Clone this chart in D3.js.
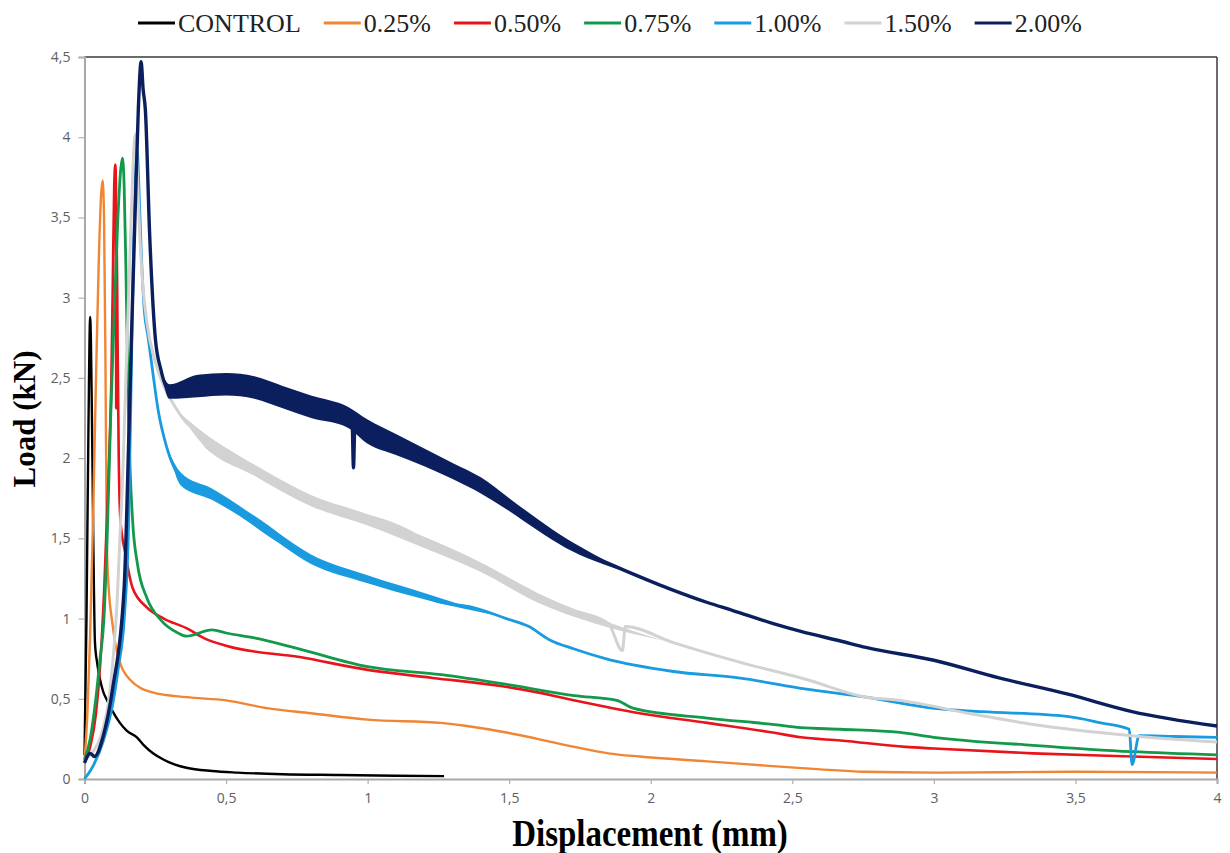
<!DOCTYPE html>
<html>
<head>
<meta charset="utf-8">
<script src="https://cdn.jsdelivr.net/npm/d3@7"></script>
<style>
  body { margin: 0; background: #fff; }
  svg { display: block; }
</style>
</head>
<body>
<svg id="chart" width="1230" height="853"></svg>
<script>
// series names + colours (legend order)
var seriesNames = ["CONTROL", "0.25%", "0.50%", "0.75%", "1.00%", "1.50%", "2.00%"];
var seriesColors = ["#000000", "#f08533", "#e8141b", "#129a4a", "#1a9be0", "#d2d2d2", "#0b1f5e"];

var xTicks = [0, 0.5, 1, 1.5, 2, 2.5, 3, 3.5, 4];
var yTicks = [0, 0.5, 1, 1.5, 2, 2.5, 3, 3.5, 4, 4.5];

// [displacement mm, load kN]
var control = [[0,0.15],[0.007,1.0],[0.014,2.2],[0.02,2.88],[0.026,2.3],[0.031,1.5],[0.037,0.85],[0.045,0.72],
  [0.055,0.62],[0.065,0.55],[0.08,0.49],[0.1,0.42],[0.125,0.35],[0.15,0.3],[0.185,0.26],[0.21,0.21],[0.242,0.16],
  [0.28,0.12],[0.32,0.09],[0.36,0.07],[0.45,0.05],[0.54,0.04],[0.7,0.03],[0.9,0.025],[1.1,0.02],[1.27,0.018]];

var p025 = [[0,0.12],[0.01,0.4],[0.02,0.9],[0.03,1.6],[0.04,2.45],[0.05,3.2],[0.058,3.62],[0.064,3.73],[0.069,3.5],
  [0.074,2.6],[0.079,1.45],[0.087,1.15],[0.097,0.99],[0.115,0.79],[0.16,0.62],[0.24,0.54],[0.36,0.51],[0.5,0.49],
  [0.65,0.44],[0.8,0.41],[1.0,0.37],[1.26,0.35],[1.35,0.33],[1.49,0.29],[1.6,0.25],[1.73,0.2],[1.85,0.16],[1.96,0.14],
  [2.2,0.11],[2.43,0.08],[2.6,0.06],[2.75,0.045],[3.0,0.04],[3.5,0.045],[4,0.04]];

var p050 = [[0,0.1],[0.02,0.2],[0.04,0.4],[0.055,0.7],[0.07,1.2],[0.085,1.9],[0.095,2.5],[0.1,3.1],[0.105,3.7],
  [0.109,3.83],[0.111,3.7],[0.112,2.31],[0.113,3.5],[0.117,2.7],[0.121,2.0],[0.127,1.61],[0.145,1.4],[0.17,1.19],
  [0.22,1.07],[0.28,1.0],[0.36,0.94],[0.42,0.88],[0.5,0.83],[0.76,0.76],[1.0,0.68],[1.23,0.63],[1.47,0.58],[1.6,0.54],
  [1.73,0.49],[1.96,0.41],[2.2,0.35],[2.43,0.29],[2.53,0.26],[2.67,0.24],[2.9,0.2],[3.0,0.19],[3.35,0.16],[3.7,0.14],[4,0.125]];

var p075 = [[0,0.12],[0.02,0.25],[0.04,0.5],[0.055,0.75],[0.068,0.98],[0.08,1.5],[0.092,2.23],[0.105,2.9],[0.118,3.5],
  [0.128,3.8],[0.134,3.87],[0.14,3.7],[0.146,3.2],[0.151,2.7],[0.156,2.23],[0.17,1.61],[0.187,1.34],[0.22,1.13],
  [0.27,0.99],[0.33,0.91],[0.36,0.89],[0.45,0.93],[0.5,0.91],[0.6,0.88],[0.76,0.81],[1.0,0.7],[1.26,0.65],[1.49,0.59],
  [1.73,0.52],[1.88,0.49],[1.94,0.44],[2.2,0.38],[2.43,0.34],[2.53,0.32],[2.67,0.31],[2.88,0.29],[3.0,0.26],[3.35,0.21],
  [3.7,0.17],[4,0.15]];

var p100 = [[0,0],[0.03,0.08],[0.067,0.24],[0.1,0.47],[0.12,0.7],[0.14,0.99],[0.156,1.61],[0.165,2.5],[0.172,3.2],
  [0.18,3.75],[0.186,3.92],[0.192,3.7],[0.2,3.3],[0.21,2.95],[0.225,2.75],[0.24,2.55],[0.26,2.3],[0.29,2.07],[0.34,1.88],
  [0.43,1.8],[0.55,1.65],[0.67,1.5],[0.79,1.38],[0.9,1.3],[1.02,1.24],[1.14,1.17],[1.26,1.1],[1.37,1.07],[1.49,1.0],
  [1.57,0.95],[1.64,0.87],[1.73,0.81],[1.84,0.75],[2.08,0.67],[2.31,0.63],[2.55,0.56],[2.76,0.51],[3.0,0.44],[3.17,0.42],
  [3.47,0.39],[3.59,0.35],[3.69,0.31],[3.7,0.09],[3.725,0.27],[3.85,0.265],[4,0.26]];

var p150 = [[0,0.12],[0.03,0.17],[0.06,0.28],[0.09,0.55],[0.115,1.1],[0.135,1.9],[0.15,2.7],[0.165,3.5],[0.175,3.95],
  [0.18,4.02],[0.186,3.8],[0.195,3.4],[0.205,3.1],[0.22,2.85],[0.25,2.6],[0.28,2.45],[0.32,2.32],[0.36,2.22],[0.41,2.15],
  [0.43,2.07],[0.55,1.97],[0.67,1.86],[0.79,1.75],[0.9,1.67],[1.02,1.63],[1.14,1.55],[1.26,1.42],[1.37,1.34],[1.49,1.25],
  [1.61,1.13],[1.73,1.05],[1.85,0.97],[1.9,0.8],[1.91,0.95],[2.08,0.85],[2.31,0.73],[2.55,0.62],[2.76,0.51],[2.88,0.49],
  [3.12,0.41],[3.35,0.34],[3.7,0.27],[4,0.23]];

var p200 = [[0,0.1],[0.02,0.16],[0.035,0.14],[0.065,0.26],[0.1,0.57],[0.14,1.19],[0.156,2.1],[0.165,2.7],[0.18,3.6],
  [0.19,4.17],[0.2,4.47],[0.207,4.3],[0.215,4.17],[0.23,3.4],[0.25,2.75],[0.27,2.55],[0.3,2.42],[0.35,2.42],[0.43,2.46],
  [0.55,2.47],[0.67,2.39],[0.79,2.33],[0.93,2.26],[0.945,2.24],[0.95,1.94],[0.955,2.2],[1.02,2.16],[1.14,2.07],[1.26,1.95],
  [1.37,1.85],[1.49,1.7],[1.61,1.56],[1.73,1.43],[1.84,1.35],[2.06,1.19],[2.2,1.1],[2.29,1.05],[2.43,0.97],[2.53,0.92],
  [2.67,0.86],[2.76,0.82],[3.0,0.74],[3.23,0.63],[3.47,0.53],[3.7,0.42],[4,0.33]];

// noisy stretches: [d, low, high] envelope
var band200 = [[0.27,2.55,2.55],[0.3,2.37,2.46],[0.4,2.38,2.52],[0.5,2.39,2.53],[0.6,2.37,2.51],[0.7,2.31,2.45],
  [0.8,2.25,2.39],[0.93,2.19,2.32],[1.0,2.09,2.24],[1.1,2.02,2.15],[1.2,1.95,2.06],[1.3,1.87,1.97],[1.4,1.78,1.88],
  [1.5,1.67,1.75],[1.6,1.55,1.62],[1.7,1.44,1.5],[1.8,1.36,1.4],[1.95,1.27,1.27]];
var band150 = [[0.33,2.29,2.29],[0.42,2.08,2.16],[0.6,1.89,1.96],[0.8,1.7,1.77],[1.0,1.58,1.65],[1.2,1.44,1.51],
  [1.4,1.29,1.35],[1.6,1.1,1.16],[1.8,0.97,1.01],[2.05,0.86,0.86]];
var band100 = [[0.3,2.03,2.03],[0.34,1.83,1.91],[0.45,1.74,1.81],[0.6,1.58,1.64],[0.8,1.34,1.4],[1.0,1.22,1.27],
  [1.2,1.12,1.16],[1.45,1.02,1.02]];

var seriesData = [control, p025, p050, p075, p100, p150, p200];
var strokeW = [2.4, 2.4, 2.6, 2.8, 2.8, 3, 3.4];

var svg = d3.select('#chart');
var x = d3.scaleLinear().domain([0, 4]).range([84.5, 1217]);
var y = d3.scaleLinear().domain([0, 4.5]).range([779, 57]);
var fmt = function(v) { return String(v).replace('.', ','); };

// frame: top + right dark, left + bottom grey
svg.append('line').attr('x1', x(0)).attr('x2', x(4)).attr('y1', y(4.5)).attr('y2', y(4.5))
    .attr('stroke', '#3a3a3a').attr('stroke-width', 1.5);
svg.append('line').attr('x1', x(4)).attr('x2', x(4)).attr('y1', y(4.5)).attr('y2', y(0))
    .attr('stroke', '#3a3a3a').attr('stroke-width', 1.5);

var yAxis = svg.append('g').attr('transform', 'translate(' + x(0) + ',0)')
    .call(d3.axisLeft(y).tickValues(yTicks).tickFormat(fmt).tickSize(6).tickPadding(8));
var xAxis = svg.append('g').attr('transform', 'translate(0,' + y(0) + ')')
    .call(d3.axisBottom(x).tickValues(xTicks).tickFormat(fmt).tickSize(5).tickPadding(9));
[yAxis, xAxis].forEach(function(ax) {
    ax.select('.domain').attr('stroke', '#a8a8a8').attr('stroke-width', 2);
    ax.selectAll('.tick line').attr('stroke', '#b0b0b0').attr('stroke-width', 1.2);
    ax.selectAll('.tick text').attr('fill', '#606060').style('font-family', '"Open Sans", sans-serif')
        .style('font-size', '14px');
});

var line = d3.line().x(function(d) { return x(d[0]); }).y(function(d) { return y(d[1]); })
    .curve(d3.curveMonotoneX);
var area = d3.area().x(function(d) { return x(d[0]); })
    .y0(function(d) { return y(d[1]); }).y1(function(d) { return y(d[2]); }).curve(d3.curveMonotoneX);

var bands = {4: band100, 5: band150, 6: band200};
var plot = svg.append('g');
seriesData.forEach(function(s, i) {
    plot.append('path').datum(s).attr('d', line)
        .attr('fill', 'none').attr('stroke', seriesColors[i]).attr('stroke-width', strokeW[i])
        .attr('stroke-linejoin', 'round');
    if (bands[i]) {
        plot.append('path').datum(bands[i]).attr('d', area).attr('fill', seriesColors[i]);
    }
});

// legend across the top
var legend = svg.append('g');
var lx = 138;
seriesNames.forEach(function(name, i) {
    legend.append('line').attr('x1', lx).attr('x2', lx + 37).attr('y1', 23).attr('y2', 23)
        .attr('stroke', seriesColors[i]).attr('stroke-width', 3);
    var t = legend.append('text').attr('x', lx + 40).attr('y', 32).text(name)
        .style('font-family', '"Liberation Serif", "Times New Roman", serif').style('font-size', '26px')
        .attr('fill', '#222');
    lx += 40 + t.node().getComputedTextLength() + 23;
});

svg.append('text').attr('transform', 'translate(650,846) scale(1,1.12)').attr('text-anchor', 'middle')
    .text('Displacement (mm)')
    .style('font-family', '"Liberation Serif", "Times New Roman", serif').style('font-size', '33px')
    .style('font-weight', 'bold');
svg.append('text').attr('transform', 'translate(35,419) rotate(-90)').attr('text-anchor', 'middle')
    .text('Load (kN)')
    .style('font-family', '"Liberation Serif", "Times New Roman", serif').style('font-size', '31px')
    .style('font-weight', 'bold');
</script>
</body>
</html>
